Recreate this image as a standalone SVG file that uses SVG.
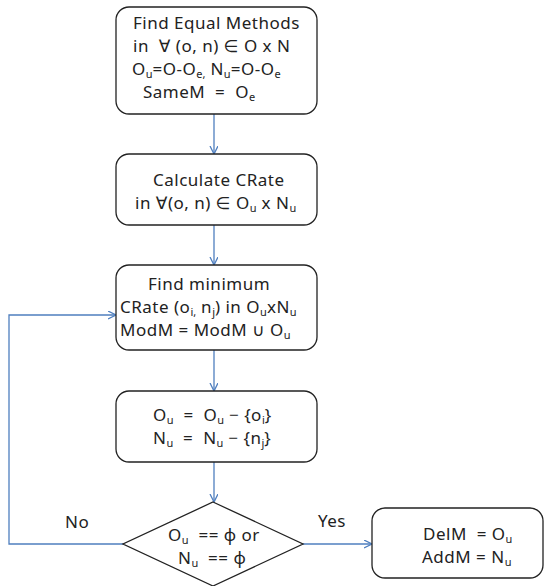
<svg xmlns="http://www.w3.org/2000/svg" width="545" height="586" viewBox="0 0 545 586" xml:space="preserve">
<defs>
<marker id="arr" markerWidth="10" markerHeight="10" refX="8" refY="4" orient="auto" markerUnits="userSpaceOnUse">
<path d="M0,0 L8,4 L0,8" fill="none" stroke="#4f7fbf" stroke-width="1.3"/>
</marker>
</defs>
<style>
.box{fill:#fff;stroke:#222;stroke-width:1.3}
.t{font-family:"Noto Sans","DejaVu Sans",sans-serif;font-size:17px;letter-spacing:0.5px;fill:#222;white-space:pre}
.s{font-size:11px;letter-spacing:0}
.c{fill:none;stroke:#4f7fbf;stroke-width:1.3}
</style>
<rect width="545" height="586" fill="#fff"/>
<g id="connectors">
<line class="c" x1="214" y1="114" x2="214" y2="154" marker-end="url(#arr)"/>
<line class="c" x1="214" y1="225" x2="214" y2="265" marker-end="url(#arr)"/>
<line class="c" x1="214" y1="350" x2="214" y2="391" marker-end="url(#arr)"/>
<line class="c" x1="214" y1="462" x2="214" y2="502" marker-end="url(#arr)"/>
<line class="c" x1="303" y1="544" x2="372" y2="544" marker-end="url(#arr)"/>
<polyline class="c" points="123,544 9,544 9,315 116,315" marker-end="url(#arr)"/>
<text class="t" x="65" y="528">No</text>
<text class="t" x="318" y="527">Yes</text>
</g>
<g id="n1">
<rect class="box" x="116" y="7" width="201" height="107" rx="13"/>
<text class="t" x="133" y="29">Find Equal Methods</text>
<text class="t" x="133" y="52">in  ∀ (o, n) ∈ O x N</text>
<text class="t" x="132" y="75">O<tspan class="s" dy="3">u</tspan><tspan dy="-3">=O-O</tspan><tspan class="s" dy="3">e,</tspan><tspan dy="-3"> N</tspan><tspan class="s" dy="3">u</tspan><tspan dy="-3">=O-O</tspan><tspan class="s" dy="3">e</tspan></text>
<text class="t" x="143" y="98">SameM  =  O<tspan class="s" dy="3">e</tspan></text>
</g>
<g id="n2">
<rect class="box" x="116" y="154" width="201" height="71" rx="13"/>
<text class="t" x="153" y="186">Calculate CRate</text>
<text class="t" x="135" y="209">in ∀(o, n) ∈ O<tspan class="s" dy="3">u</tspan><tspan dy="-3"> x N</tspan><tspan class="s" dy="3">u</tspan></text>
</g>
<g id="n3">
<rect class="box" x="116" y="265" width="201" height="85" rx="13"/>
<text class="t" x="148" y="290">Find minimum</text>
<text class="t" x="120" y="313">CRate (o<tspan class="s" dy="3">i,</tspan><tspan dy="-3"> n</tspan><tspan class="s" dy="3">j</tspan><tspan dy="-3">) in O</tspan><tspan class="s" dy="3">u</tspan><tspan dy="-3">xN</tspan><tspan class="s" dy="3">u</tspan></text>
<text class="t" x="120" y="336">ModM = ModM ∪ O<tspan class="s" dy="3">u</tspan></text>
</g>
<g id="n4">
<rect class="box" x="116" y="391" width="201" height="71" rx="13"/>
<text class="t" x="153" y="421">O<tspan class="s" dy="3">u</tspan><tspan dy="-3">  =  O</tspan><tspan class="s" dy="3">u</tspan><tspan dy="-3"> − {o</tspan><tspan class="s" dy="3">i</tspan><tspan dy="-3">}</tspan></text>
<text class="t" x="153" y="444">N<tspan class="s" dy="3">u</tspan><tspan dy="-3">  =  N</tspan><tspan class="s" dy="3">u</tspan><tspan dy="-3"> − {n</tspan><tspan class="s" dy="3">j</tspan><tspan dy="-3">}</tspan></text>
</g>
<g id="n5">
<polygon class="box" points="213,502 303,544 213,586 123,544"/>
<text class="t" x="168" y="541">O<tspan class="s" dy="3">u</tspan><tspan dy="-3">  == ϕ or</tspan></text>
<text class="t" x="178" y="564">N<tspan class="s" dy="3">u</tspan><tspan dy="-3">  == ϕ</tspan></text>
</g>
<g id="n6">
<rect class="box" x="372" y="508" width="171" height="70" rx="13"/>
<text class="t" x="423" y="540">DelM  = O<tspan class="s" dy="3">u</tspan></text>
<text class="t" x="422" y="563">AddM = N<tspan class="s" dy="3">u</tspan></text>
</g>
</svg>
